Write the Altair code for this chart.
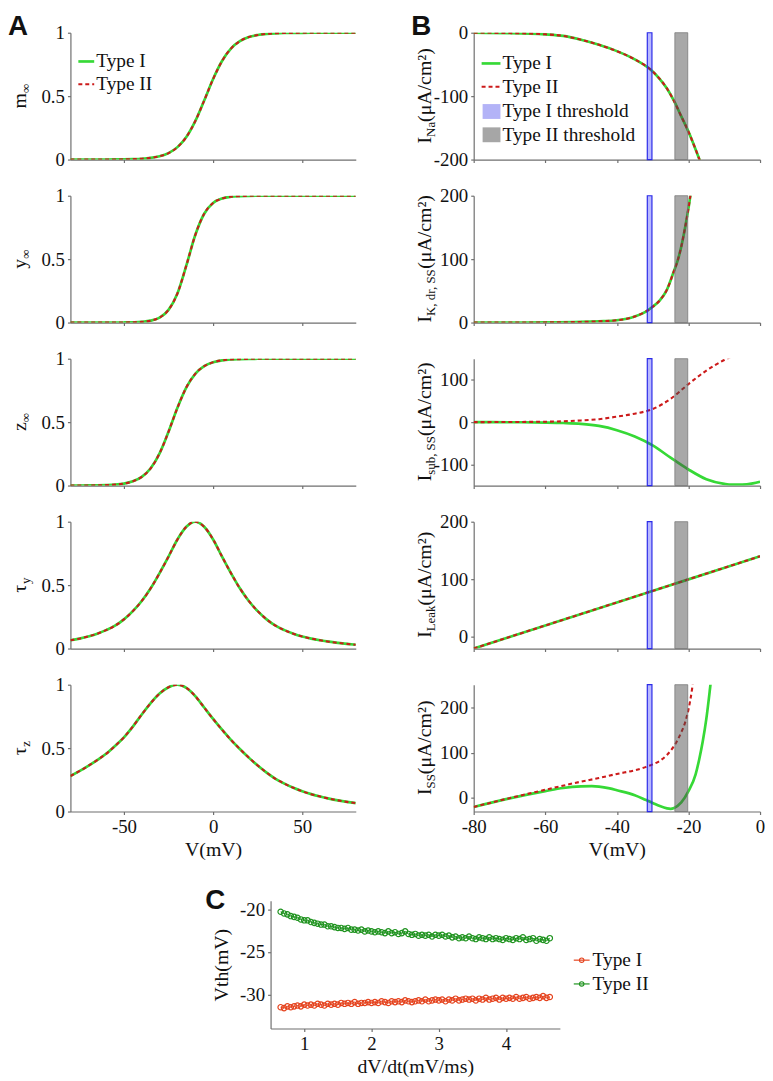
import altair as alt
import pandas as pd

# ---------------- data ----------------
V_A = [-80, -75, -70, -65, -60, -55, -50, -45, -40, -35, -30, -25, -20, -15, -10, -5, 0,
       5, 10, 15, 20, 25, 30, 35, 40, 45, 50, 55, 60, 65, 70, 75, 80]
m_inf = [0.0, 0.0001, 0.0001, 0.0002, 0.0004, 0.0008, 0.0017, 0.0034, 0.0067, 0.0133, 0.026, 0.051,
         0.098, 0.178, 0.303, 0.465, 0.635, 0.777, 0.875, 0.933, 0.966, 0.982, 0.991, 0.9956, 0.998,
         0.9989, 0.9994, 0.9997, 0.9999, 1.0, 1.0, 1.0, 1.0]
y_inf = [0.0, 0.0, 0.0, 0.0, 0.0001, 0.0003, 0.0007, 0.002, 0.0055, 0.015, 0.039, 0.10, 0.23, 0.45,
         0.69, 0.858, 0.943, 0.978, 0.992, 0.997, 0.999, 1.0, 1.0, 1.0, 1.0, 1.0, 1.0, 1.0, 1.0, 1.0,
         1.0, 1.0, 1.0]
z_inf = [0.0002, 0.0003, 0.0007, 0.0016, 0.0034, 0.0072, 0.0155, 0.033, 0.068, 0.136, 0.254, 0.424,
         0.613, 0.774, 0.881, 0.941, 0.972, 0.987, 0.994, 0.997, 0.999, 0.9995, 1.0, 1.0, 1.0, 1.0,
         1.0, 1.0, 1.0, 1.0, 1.0, 1.0, 1.0]
tau_y = [0.065, 0.078, 0.095, 0.117, 0.145, 0.18, 0.23, 0.295, 0.375, 0.475, 0.595, 0.725, 0.86,
         0.96, 1.0, 0.96, 0.86, 0.725, 0.595, 0.475, 0.375, 0.295, 0.23, 0.18, 0.145, 0.117, 0.095,
         0.078, 0.065, 0.054, 0.045, 0.037, 0.03]
tau_z = [0.28, 0.318, 0.36, 0.405, 0.455, 0.517, 0.585, 0.67, 0.765, 0.855, 0.93, 0.98, 1.0,
         0.975, 0.91, 0.82, 0.73, 0.645, 0.565, 0.493, 0.425, 0.363, 0.307, 0.258, 0.22, 0.187, 0.16,
         0.137, 0.118, 0.102, 0.088, 0.076, 0.066]

V_Na = [-80, -70, -60, -55, -50, -45, -40, -35, -30, -28, -26, -24, -22, -20, -18, -16]
I_Na = [0, -0.5, -2.5, -5, -11, -19, -29, -42, -61, -73, -88, -108, -132, -156, -184, -214]

V_K = [-80, -70, -60, -50, -45, -40, -35, -32, -30, -28, -26, -24, -23, -22, -21, -20, -19]
I_K = [0, 0, 0.2, 1, 2, 3.6, 9.5, 17, 25, 35, 52, 82, 98, 120, 148, 180, 218]

V_sub2 = [-80, -70, -60, -55, -50, -45, -40, -35, -30, -25, -20, -15, -10, -8]
I_sub2 = [0, 0.3, 1, 2, 4, 7, 13, 20, 31, 55, 90, 122, 147, 155]
V_sub1 = [-80, -70, -60, -55, -50, -45, -40, -35, -30, -25, -20, -15, -10, -8, -5, -2, 0]
I_sub1 = [0, -0.2, -1, -2, -4, -9, -19, -34, -55, -84, -112, -135, -146, -148, -148, -145, -141]

V_leak = [-80, -60, -40, -20, 0]
I_leak = [-20, 20, 60, 100, 140]

V_ss2 = [-80, -70, -60, -50, -45, -40, -35, -32, -30, -28, -26, -24, -22, -21, -20, -19, -18.5]
I_ss2 = [-20, -0.5, 18, 36, 44, 53, 61, 68, 74, 82, 95, 115, 145, 165, 195, 240, 270]
V_ss1 = [-80, -70, -60, -55, -50, -47, -45, -42, -40, -35, -32, -30, -28, -26, -25, -24, -22, -20,
         -18, -17, -16, -15, -14, -13.5]
I_ss1 = [-20, -1, 15, 22, 25.5, 26, 25, 21, 17, 6, -4, -11, -18, -23, -24, -22, -10, 15,
         52, 85, 125, 175, 240, 275]

thr_type1 = [-31.5, -30.2]
thr_type2 = [-23.8, -20.2]

C_x = [0.65, 0.70, 0.75, 0.80, 0.85, 0.90, 0.95, 1.00, 1.05, 1.10,
       1.15, 1.20, 1.25, 1.30, 1.35, 1.40, 1.45, 1.50, 1.55, 1.60,
       1.65, 1.70, 1.75, 1.80, 1.85, 1.90, 1.95, 2.00, 2.05, 2.10,
       2.15, 2.20, 2.25, 2.30, 2.35, 2.40, 2.45, 2.50, 2.55, 2.60,
       2.65, 2.70, 2.75, 2.80, 2.85, 2.90, 2.95, 3.00, 3.05, 3.10,
       3.15, 3.20, 3.25, 3.30, 3.35, 3.40, 3.45, 3.50, 3.55, 3.60,
       3.65, 3.70, 3.75, 3.80, 3.85, 3.90, 3.95, 4.00, 4.05, 4.10,
       4.15, 4.20, 4.25, 4.30, 4.35, 4.40, 4.45, 4.50, 4.55, 4.60,
       4.65]
C_type2 = [-20.3, -20.5, -20.6, -20.8, -20.9, -21.0, -21.2, -21.3, -21.3, -21.5,
           -21.6, -21.7, -21.8, -21.8, -22.0, -22.0, -22.1, -22.2, -22.2, -22.3,
           -22.2, -22.4, -22.4, -22.5, -22.4, -22.6, -22.5, -22.6, -22.7, -22.6,
           -22.7, -22.8, -22.6, -22.8, -22.7, -22.9, -22.8, -22.6, -22.9, -23.0,
           -22.9, -23.1, -23.0, -23.1, -23.0, -23.2, -23.0, -23.1, -23.0, -23.2,
           -23.1, -23.3, -23.2, -23.4, -23.3, -23.4, -23.2, -23.4, -23.5, -23.3,
           -23.4, -23.5, -23.3, -23.5, -23.4, -23.5, -23.6, -23.4, -23.5, -23.6,
           -23.4, -23.5, -23.3, -23.6, -23.5, -23.4, -23.7, -23.5, -23.6, -23.7,
           -23.4]
C_type1 = [-31.5, -31.6, -31.4, -31.5, -31.4, -31.3, -31.4, -31.2, -31.3, -31.2,
           -31.3, -31.1, -31.2, -31.3, -31.1, -31.2, -31.1, -31.2, -31.0, -31.1,
           -31.0, -31.1, -30.9, -31.1, -31.0, -31.0, -30.9, -31.0, -30.9, -31.0,
           -30.8, -30.9, -31.0, -30.8, -30.9, -30.8, -30.9, -30.7, -30.8, -30.9,
           -30.8, -30.7, -30.8, -30.6, -30.8, -30.7, -30.6, -30.7, -30.6, -30.8,
           -30.6, -30.7, -30.5, -30.7, -30.6, -30.5, -30.6, -30.5, -30.7, -30.5,
           -30.6, -30.4, -30.6, -30.5, -30.4, -30.6, -30.4, -30.5, -30.4, -30.5,
           -30.3, -30.5, -30.4, -30.3, -30.5, -30.4, -30.3, -30.4, -30.2, -30.4,
           -30.3]

# ---------------- style ----------------
SERIF = "Liberation Serif"
SANS = "Liberation Sans"
GREEN = "#36d936"
RED = "#cc1a1a"
C_RED = "#e5431e"
C_GREEN = "#1f931f"
INK = "#111111"
LBL = "'' + datum.value"
ONE = pd.DataFrame({"k": [0]})

WA, HA = 288, 128
WB, HB = 289, 128
WC, HC = 292, 129

TNR = {' ': 250, '(': 333, ')': 333, ',': 250, '/': 278, '-': 333, 'A': 722, 'I': 333, 'K': 722,
       'L': 611, 'N': 722, 'S': 556, 'V': 722, 'a': 444, 'b': 500, 'c': 444, 'd': 500, 'e': 444,
       'h': 500, 'k': 500, 'm': 778, 'n': 500, 'o': 500, 'p': 500, 'r': 333, 's': 389, 't': 278,
       'u': 500, 'y': 500, 'z': 444, 'μ': 500, '²': 300, '∞': 713, 'τ': 439}


def tw(s, size):
    return sum(TNR.get(c, 500) for c in s) / 1000.0 * size


def txt(s, x, y, size=19.5, font=SERIF, **kw):
    return alt.Chart(ONE).mark_text(text=s, font=font, fontSize=size, color=INK, **kw).encode(
        x=alt.value(x), y=alt.value(y))


def anchor(x, y):
    # invisible 1px box that pins the layout bounds of a panel
    return alt.Chart(ONE).mark_rect(opacity=0).encode(
        x=alt.value(x), x2=alt.value(x + 1), y=alt.value(y), y2=alt.value(y + 1))


def ytitle(segs, cy, bx):
    total = sum(tw(t, fs) for t, fs, _ in segs)
    y = cy + total / 2.0
    out = []
    for t, fs, sh in segs:
        out.append(txt(t, bx + sh, y, size=fs, angle=270, align="left", baseline="alphabetic"))
        y -= tw(t, fs)
    return out


def curve(vs, vals, color, dashed, xs, ys, xax, yax):
    df = pd.DataFrame({"V": vs, "val": vals})
    if dashed:
        m = alt.Chart(df).mark_line(color=color, strokeWidth=2.1, strokeDash=[4, 3], clip=True,
                                    interpolate="monotone")
    else:
        m = alt.Chart(df).mark_line(color=color, strokeWidth=2.7, clip=True, interpolate="monotone")
    return m.encode(x=alt.X("V:Q", scale=xs, axis=xax), y=alt.Y("val:Q", scale=ys, axis=yax))


def letter(s, x, y):
    return txt(s, x, y, size=28, font=SANS, fontWeight="bold", align="left", baseline="top")


def panel_A(vals, main, sub, idx):
    last = idx == 4
    xs = alt.Scale(domain=[-80, 80], nice=False, zero=False)
    ys = alt.Scale(domain=[0, 1], nice=False, zero=False)
    if last:
        xax = alt.Axis(values=[-50, 0, 50], labelExpr=LBL, title="V(mV)", titlePadding=3)
    else:
        xax = alt.Axis(values=[-50, 0, 50], labels=False, title=None)
    yax = alt.Axis(values=[0, 0.5, 1], labelExpr=LBL, title=None)
    layers = [curve(V_A, vals, GREEN, False, xs, ys, xax, yax),
              curve(V_A, vals, RED, True, xs, ys, xax, yax)]
    layers += ytitle([(main, 20, 0), (sub, 13, 4)], HA / 2.0, -45)
    if idx == 0:
        layers += [
            alt.Chart(ONE).mark_rule(color=GREEN, strokeWidth=2.7).encode(
                x=alt.value(8), x2=alt.value(24), y=alt.value(29)),
            alt.Chart(ONE).mark_rule(color=RED, strokeWidth=2.1, strokeDash=[4, 3]).encode(
                x=alt.value(8), x2=alt.value(24), y=alt.value(52)),
            txt("Type I", 26, 29, align="left", baseline="middle"),
            txt("Type II", 26, 52, align="left", baseline="middle"),
            letter("A", -63, -20),
            anchor(-63, -20),
            anchor(WA + 4, 10),
        ]
    if last:
        layers.append(anchor(0, HA + 52))
    return alt.layer(*layers).properties(width=WA, height=HA)


def band(lo_hi, fill, fop, stroke, sw, xs, xax):
    df = pd.DataFrame({"lo": [lo_hi[0]], "hi": [lo_hi[1]]})
    return alt.Chart(df).mark_rect(fill=fill, fillOpacity=fop, stroke=stroke, strokeWidth=sw).encode(
        x=alt.X("lo:Q", scale=xs, axis=xax), x2="hi:Q", y=alt.value(0), y2=alt.value(HB))


def panel_B(series, ydom, yticks, sub, idx):
    last = idx == 4
    xs = alt.Scale(domain=[-80, 0], nice=False, zero=False)
    ys = alt.Scale(domain=ydom, nice=False, zero=False)
    if last:
        xax = alt.Axis(values=[-80, -60, -40, -20, 0], labelExpr=LBL, title="V(mV)", titlePadding=3)
    else:
        xax = alt.Axis(values=[-80, -60, -40, -20, 0], labels=False, title=None)
    yax = alt.Axis(values=yticks, labelExpr=LBL, title=None)
    (v1, i1), (v2, i2) = series
    layers = [curve(v1, i1, GREEN, False, xs, ys, xax, yax),
              curve(v2, i2, RED, True, xs, ys, xax, yax)]
    layers += [band(thr_type1, "#0000ff", 0.28, "#2b2be8", 1.2, xs, xax),
               band(thr_type2, "#4a4a4a", 0.48, "#7a7a7a", 0.8, xs, xax)]
    layers += ytitle([("I", 20, 0), (sub, 13, 4), ("(μA/cm²)", 20, 0)], HB / 2.0, -43)
    if idx == 0:
        rows = [31, 54.5, 79.5, 103]
        layers += [
            alt.Chart(ONE).mark_rule(color=GREEN, strokeWidth=2.7).encode(
                x=alt.value(8), x2=alt.value(27), y=alt.value(rows[0])),
            alt.Chart(ONE).mark_rule(color=RED, strokeWidth=2.1, strokeDash=[4, 3]).encode(
                x=alt.value(8), x2=alt.value(27), y=alt.value(rows[1])),
            alt.Chart(ONE).mark_rect(fill="#b3b3f7").encode(
                x=alt.value(9), x2=alt.value(27), y=alt.value(rows[2] - 7.5), y2=alt.value(rows[2] + 7.5)),
            alt.Chart(ONE).mark_rect(fill="#a6a6a6").encode(
                x=alt.value(9), x2=alt.value(27), y=alt.value(rows[3] - 7.5), y2=alt.value(rows[3] + 7.5)),
            txt("Type I", 29, rows[0], align="left", baseline="middle"),
            txt("Type II", 29, rows[1], align="left", baseline="middle"),
            txt("Type I threshold", 29, rows[2], align="left", baseline="middle"),
            txt("Type II threshold", 29, rows[3], align="left", baseline="middle"),
            letter("B", -63, -20),
            anchor(-63, -20),
        ]
    return alt.layer(*layers).properties(width=WB, height=HB)


A_panels = [
    panel_A(m_inf, "m", "∞", 0),
    panel_A(y_inf, "y", "∞", 1),
    panel_A(z_inf, "z", "∞", 2),
    panel_A(tau_y, "τ", "y", 3),
    panel_A(tau_z, "τ", "z", 4),
]
B_panels = [
    panel_B([(V_Na, I_Na), (V_Na, I_Na)], [-200, 0], [-200, -100, 0], "Na", 0),
    panel_B([(V_K, I_K), (V_K, I_K)], [0, 200], [0, 100, 200], "K, dr, SS", 1),
    panel_B([(V_sub1, I_sub1), (V_sub2, I_sub2)], [-150, 150], [-100, 0, 100], "sub, SS", 2),
    panel_B([(V_leak, I_leak), (V_leak, I_leak)], [-20, 200], [0, 100, 200], "Leak", 3),
    panel_B([(V_ss1, I_ss1), (V_ss2, I_ss2)], [-30, 250], [0, 100, 200], "SS", 4),
]

# ---------------- panel C ----------------
dfC1 = pd.DataFrame({"x": C_x, "vth": C_type1})
dfC2 = pd.DataFrame({"x": C_x, "vth": C_type2})
cxs = alt.Scale(domain=[0.5, 4.8], nice=False, zero=False)
cys = alt.Scale(domain=[-34, -19], nice=False, zero=False)
cxax = alt.Axis(values=[1, 2, 3, 4], labelExpr=LBL, title="dV/dt(mV/ms)", titlePadding=3)
cyax = alt.Axis(values=[-30, -25, -20], labelExpr=LBL, title="Vth(mV)", titlePadding=8)


def c_series(df, col):
    enc = dict(x=alt.X("x:Q", scale=cxs, axis=cxax), y=alt.Y("vth:Q", scale=cys, axis=cyax))
    return [
        alt.Chart(df).mark_line(color=col, strokeWidth=1, clip=True).encode(**enc),
        alt.Chart(df).mark_point(shape="circle", filled=False, size=30, strokeWidth=1.2, color=col,
                                 opacity=1, clip=True).encode(**enc),
    ]


c_layers = c_series(dfC1, C_RED) + c_series(dfC2, C_GREEN)
for (row, col, label) in [(60, C_RED, "Type I"), (84, C_GREEN, "Type II")]:
    c_layers += [
        alt.Chart(ONE).mark_rule(color=col, strokeWidth=1.2).encode(
            x=alt.value(306), x2=alt.value(322), y=alt.value(row)),
        alt.Chart(ONE).mark_point(shape="circle", filled=False, size=20, strokeWidth=1.1, color=col,
                                  opacity=1).encode(x=alt.value(314), y=alt.value(row)),
        txt(label, 325, row, align="left", baseline="middle"),
    ]
c_layers += [letter("C", -66, -14), anchor(-66, -26)]
panel_C = alt.layer(*c_layers).properties(width=WC, height=HC)

spacer = alt.layer(anchor(0, 0), anchor(99, 0)).properties(width=100, height=HC)

colA = alt.vconcat(*A_panels, spacing=36.5, bounds="flush")
colB = alt.vconcat(*B_panels, spacing=36.5, bounds="flush")
top = alt.hconcat(colA, colB, spacing=51)
bottom = alt.hconcat(spacer, panel_C, spacing=36)

chart = alt.vconcat(top, bottom, spacing=11).properties(
    padding=0
).configure_axis(
    domainColor="#6f6f6f", tickColor="#6f6f6f", domainWidth=1.2, tickWidth=1.2, tickSize=3,
    labelFont=SERIF, labelFontSize=19, labelColor=INK, labelPadding=3, labelFlush=False,
    titleFont=SERIF, titleFontSize=20, titleFontWeight="normal", titleColor=INK, grid=False
).configure_view(stroke=None)

chart.save("out.html", embed_options={"renderer": "svg", "actions": False})
